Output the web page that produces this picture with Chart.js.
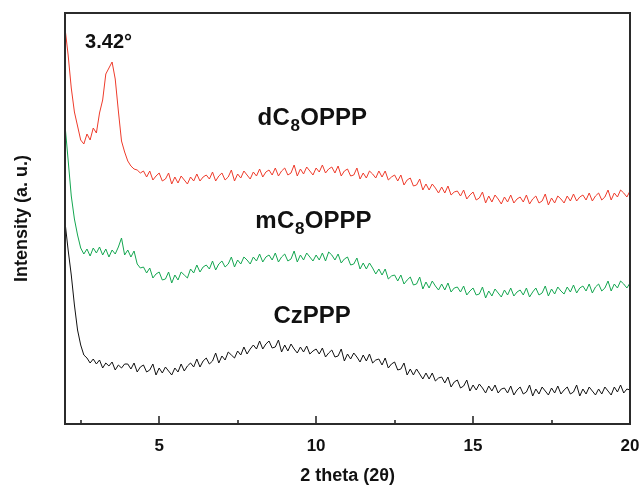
<!DOCTYPE html>
<html>
<head>
<meta charset="utf-8">
<script src="https://cdn.jsdelivr.net/npm/chart.js@4"></script>
<style>
  html, body { margin: 0; padding: 0; background: #fff; }
  #wrap { width: 643px; height: 491px; }
</style>
</head>
<body>
<div id="wrap"><canvas id="xrdChart"></canvas></div>
<script>
// 2 theta scan grid, 2.0 -> 20.0 deg, step 0.1
const twoTheta = Array.from({ length: 181 }, (_, i) => +(2 + i * 0.1).toFixed(1));

// intensities (a. u., curves already offset)
const dC8OPPP = [
  396, 369, 336, 312, 298, 284, 280, 290, 284, 296,
  291, 311, 324, 350, 356, 362, 345, 313, 283, 272,
  263, 258, 255, 254, 251, 253, 247, 253, 244, 248,
  251, 243, 245, 251, 240, 247, 241, 248, 244, 240,
  247, 243, 250, 243, 247, 249, 245, 252, 243, 248,
  251, 244, 247, 254, 243, 250, 246, 253, 249, 245,
  252, 248, 255, 247, 252, 254, 249, 256, 248, 253,
  256, 249, 251, 259, 248, 255, 250, 257, 253, 249,
  256, 252, 259, 251, 255, 257, 251, 258, 248, 253,
  255, 248, 249, 256, 245, 251, 246, 253, 250, 246,
  253, 247, 253, 244, 247, 249, 243, 249, 239, 244,
  246, 238, 239, 245, 234, 240, 234, 240, 236, 231,
  237, 231, 238, 229, 232, 233, 228, 234, 225, 229,
  232, 224, 226, 232, 221, 228, 222, 229, 225, 220,
  227, 222, 229, 221, 225, 227, 222, 229, 220, 225,
  228, 221, 223, 230, 219, 226, 221, 228, 225, 221,
  228, 223, 230, 223, 227, 229, 224, 231, 223, 228,
  231, 224, 227, 234, 224, 231, 227, 234, 231, 227,
  233
];

const mC8OPPP = [
  299, 264, 228, 205, 189, 176, 170, 175, 168, 176,
  171, 177, 169, 175, 167, 174, 170, 177, 186, 169,
  174, 167, 173, 160, 156, 157, 151, 156, 146, 150,
  152, 144, 145, 152, 141, 149, 144, 152, 149, 146,
  155, 151, 159, 152, 157, 159, 155, 163, 154, 160,
  163, 157, 160, 167, 157, 164, 160, 167, 164, 160,
  167, 163, 170, 162, 167, 169, 164, 171, 162, 167,
  170, 163, 165, 173, 162, 169, 164, 171, 167, 163,
  169, 164, 171, 163, 172, 169, 164, 170, 161, 165,
  167, 159, 160, 166, 155, 161, 155, 161, 156, 150,
  155, 149, 155, 145, 148, 149, 143, 149, 140, 144,
  147, 139, 140, 147, 135, 142, 136, 143, 138, 134,
  140, 134, 141, 132, 136, 137, 132, 138, 129, 133,
  136, 129, 130, 137, 126, 133, 128, 135, 131, 127,
  134, 129, 136, 128, 132, 134, 129, 136, 127, 132,
  136, 129, 131, 138, 128, 135, 130, 137, 133, 130,
  137, 132, 139, 131, 136, 138, 133, 140, 131, 137,
  140, 133, 136, 143, 133, 140, 136, 143, 140, 136,
  141
];

const CzPPP = [
  202, 174, 149, 119, 94, 79, 69, 66, 61, 65,
  60, 64, 56, 61, 58, 62, 54, 59, 56, 60,
  60, 55, 61, 52, 57, 59, 52, 54, 60, 49,
  56, 51, 57, 53, 49, 56, 52, 60, 53, 58,
  61, 57, 65, 57, 63, 66, 60, 63, 71, 61,
  68, 64, 72, 69, 66, 73, 69, 77, 70, 75,
  79, 75, 83, 75, 80, 83, 76, 77, 84, 72,
  79, 73, 80, 75, 71, 77, 72, 78, 70, 73,
  75, 70, 76, 67, 71, 74, 67, 68, 75, 63,
  70, 65, 71, 67, 62, 69, 63, 70, 61, 64,
  65, 59, 66, 56, 60, 62, 54, 55, 61, 49,
  55, 49, 55, 50, 45, 51, 45, 51, 43, 46,
  47, 41, 47, 37, 42, 44, 36, 38, 44, 33,
  39, 34, 40, 36, 31, 38, 33, 39, 31, 35,
  36, 31, 38, 29, 34, 37, 30, 32, 39, 28,
  35, 30, 37, 33, 29, 36, 31, 38, 30, 34,
  37, 30, 32, 39, 28, 35, 30, 37, 33, 29,
  35, 30, 37, 33, 29, 37, 32, 39, 31, 35,
  34
];

const majorTicks = [5, 10, 15, 20];
const minorTicks = [2.5, 7.5, 12.5, 17.5];

const FONT = "'Liberation Sans', Arial, sans-serif";

// curve names, anchored in data units (left edge, baseline)
const curveLabels = [
  { parts: [['d'], ['C'], ['8', true], ['OPPP']], x: 8.13, y: 299 },
  { parts: [['m'], ['C'], ['8', true], ['OPPP']], x: 8.06, y: 196 },
  { parts: [['CzPPP']], x: 8.64, y: 101 }
];
const peakLabel = { text: '3.42°', x: 2.64, y: 376 };

const frameAndLabels = {
  id: 'frameAndLabels',
  afterDraw(chart) {
    const { ctx, chartArea: a, scales } = chart;
    const xs = scales.x, ys = scales.y;
    ctx.save();

    // box frame
    ctx.strokeStyle = '#2b2b2b';
    ctx.lineWidth = 2;
    ctx.strokeRect(a.left, a.top, a.right - a.left, a.bottom - a.top);

    // inward ticks on the bottom axis
    ctx.lineWidth = 1.6;
    ctx.beginPath();
    majorTicks.forEach(v => {
      const px = Math.round(xs.getPixelForValue(v));
      ctx.moveTo(px, a.bottom);
      ctx.lineTo(px, a.bottom - 8);
    });
    minorTicks.forEach(v => {
      const px = Math.round(xs.getPixelForValue(v));
      ctx.moveTo(px, a.bottom);
      ctx.lineTo(px, a.bottom - 4);
    });
    ctx.stroke();

    // curve labels with subscript
    ctx.fillStyle = '#111';
    ctx.textBaseline = 'alphabetic';
    ctx.textAlign = 'left';
    curveLabels.forEach(lab => {
      let px = xs.getPixelForValue(lab.x);
      const py = ys.getPixelForValue(lab.y);
      lab.parts.forEach(([t, sub]) => {
        ctx.font = sub ? `bold 17px ${FONT}` : `bold 24px ${FONT}`;
        ctx.fillText(t, px, sub ? py + 6 : py);
        px += ctx.measureText(t).width + 0.5;
      });
    });

    // peak position
    ctx.font = `bold 20px ${FONT}`;
    ctx.fillText(peakLabel.text, xs.getPixelForValue(peakLabel.x), ys.getPixelForValue(peakLabel.y));

    ctx.restore();
  }
};

const ctx = document.getElementById('xrdChart').getContext('2d');

new Chart(ctx, {
  type: 'line',
  data: {
    labels: twoTheta,
    datasets: [
      { label: 'dC8OPPP', data: dC8OPPP, borderColor: '#ee3b2b' },
      { label: 'mC8OPPP', data: mC8OPPP, borderColor: '#14a650' },
      { label: 'CzPPP', data: CzPPP, borderColor: '#111111' }
    ].map(d => Object.assign(d, { borderWidth: 1, pointRadius: 0, tension: 0, fill: false }))
  },
  options: {
    responsive: true,
    maintainAspectRatio: false,
    animation: false,
    layout: { padding: { top: 13, right: 13, left: 0, bottom: 0 } },
    plugins: {
      legend: { display: false },
      tooltip: { enabled: false }
    },
    scales: {
      x: {
        type: 'linear',
        min: 2,
        max: 20,
        afterBuildTicks: s => { s.ticks = majorTicks.map(v => ({ value: v })); },
        afterFit: s => { s.height = 67; s.paddingRight = 0; s.paddingLeft = 0; },
        grid: { display: false, drawTicks: false },
        border: { display: false },
        ticks: {
          padding: 12,
          color: '#111',
          maxRotation: 0,
          font: { family: FONT, size: 17, weight: 'bold' }
        },
        title: {
          display: true,
          text: '2 theta (2θ)',
          color: '#111',
          padding: { top: 0, bottom: 4 },
          font: { family: FONT, size: 18, weight: 'bold' }
        }
      },
      y: {
        min: 0,
        max: 411,
        afterFit: s => { s.width = 65; },
        grid: { display: false, drawTicks: false },
        border: { display: false },
        ticks: { display: false },
        title: {
          display: true,
          text: 'Intensity (a. u.)',
          color: '#111',
          padding: { top: 11, bottom: 0 },
          font: { family: FONT, size: 18, weight: 'bold' }
        }
      }
    }
  },
  plugins: [frameAndLabels]
});
</script>
</body>
</html>
